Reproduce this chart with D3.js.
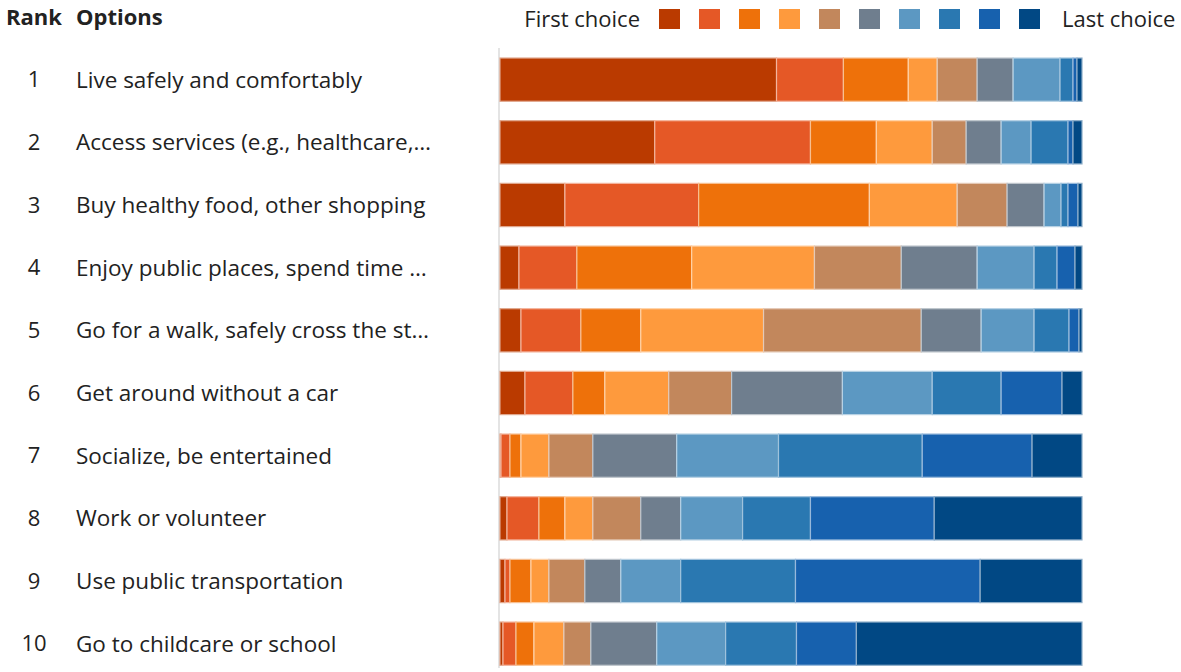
<!DOCTYPE html>
<html>
<head>
<meta charset="utf-8">
<script src="https://cdn.jsdelivr.net/npm/d3@7"></script>
<style>
  body { margin: 0; background: #fff; }
  text { font-family: "Segoe UI", "Open Sans", "Noto Sans", sans-serif; fill: #222; }
</style>
</head>
<body>
<div id="chart-area"></div>
<script>
const ranks   = [1, 2, 3, 4, 5, 6, 7, 8, 9, 10];
const options = [
  "Live safely and comfortably",
  "Access services (e.g., healthcare,…",
  "Buy healthy food, other shopping",
  "Enjoy public places, spend time …",
  "Go for a walk, safely cross the st…",
  "Get around without a car",
  "Socialize, be entertained",
  "Work or volunteer",
  "Use public transportation",
  "Go to childcare or school"
];
const choices = ["c1","c2","c3","c4","c5","c6","c7","c8","c9","c10"];
// share of respondents putting each option at choice 1..10
const shares = [
  [277, 67, 65, 29, 40, 36, 47, 13, 4, 5],
  [155, 156, 66, 56, 34, 35, 30, 37, 5, 9],
  [65, 134, 171, 88, 50, 37, 17, 7, 10, 4],
  [19, 58, 115, 123, 87, 76, 57, 23, 18, 7],
  [21, 60, 60, 123, 158, 60, 53, 35, 10, 3],
  [25, 48, 32, 64, 63, 111, 90, 69, 61, 20],
  [1, 9, 11, 28, 44, 84, 102, 144, 110, 50],
  [7, 32, 26, 28, 48, 40, 62, 68, 124, 148],
  [5, 5, 21, 18, 36, 36, 60, 115, 185, 102],
  [3, 13, 18, 30, 27, 66, 69, 71, 60, 226]
];
const palette = ["#ba3a00","#e55826","#ee710a","#fe9a3d","#c2875c",
                 "#6f7e8e","#5c98c2","#2a78b1","#1761ae","#014884"];

const Wd = 1181, Ht = 672;
const svg = d3.select("#chart-area").append("svg")
              .attr("width", Wd).attr("height", Ht);

const rows = ranks.map((r,i)=>{
  const o = {rank: r, option: options[i]};
  choices.forEach((c,j)=> o[c] = shares[i][j]);
  return o;
});

const stack = d3.stack().keys(choices).offset(d3.stackOffsetExpand);
const series = stack(rows);

const x = d3.scaleLinear().domain([0,1]).range([500, 1082]);
const y = d3.scaleBand().domain(ranks).range([38.6, 684.7]).paddingInner(0.31).paddingOuter(0.31);
const colour = d3.scaleOrdinal().domain(choices).range(palette);

// axis line
svg.append("line")
   .attr("x1", 499).attr("x2", 499)
   .attr("y1", 48).attr("y2", 668)
   .attr("stroke", "#e4e4e4").attr("stroke-width", 2);

svg.append("g").selectAll("g")
   .data(series).join("g")
     .attr("fill", d=>colour(d.key))
     .attr("stroke", d=>d3.interpolateRgb(colour(d.key), "#fff")(0.55))
   .selectAll("rect")
   .data(d=>d).join("rect")
     .attr("x", d=>x(d[0]))
     .attr("y", d=>y(d.data.rank))
     .attr("width", d=>Math.max(0, x(d[1]) - x(d[0])))
     .attr("height", y.bandwidth())
     .attr("stroke-width", 1.2);

// headers
svg.append("text").attr("x", 6).attr("y", 25)
   .attr("font-weight", "bold").style("font-size", "22px").text("Rank");
svg.append("text").attr("x", 76).attr("y", 25)
   .attr("font-weight", "bold").style("font-size", "22px").text("Options");

// row labels
svg.append("g").selectAll("text.rank")
   .data(rows).join("text")
     .attr("x", 34)
     .attr("y", d=>y(d.rank) + y.bandwidth()/2)
     .attr("dy", "0.35em")
     .attr("text-anchor", "middle")
     .style("font-size", "22px")
     .text(d=>d.rank);

svg.append("g").selectAll("text.opt")
   .data(rows).join("text")
     .attr("x", 76)
     .attr("y", d=>y(d.rank) + y.bandwidth()/2)
     .attr("dy", "0.35em")
     .style("font-size", "22.5px")
     .text(d=>d.option);

// legend
const legend = svg.append("g");
legend.append("text").attr("x", 640).attr("y", 19).attr("dy", "0.35em")
      .attr("text-anchor", "end").style("font-size", "22px").text("First choice");
choices.forEach((c,i)=>{
  legend.append("rect")
        .attr("x", 659 + i*40).attr("y", 9)
        .attr("width", 21).attr("height", 20)
        .attr("fill", colour(c));
});
legend.append("text").attr("x", 1062).attr("y", 19).attr("dy", "0.35em")
      .style("font-size", "22px").text("Last choice");
</script>
</body>
</html>
